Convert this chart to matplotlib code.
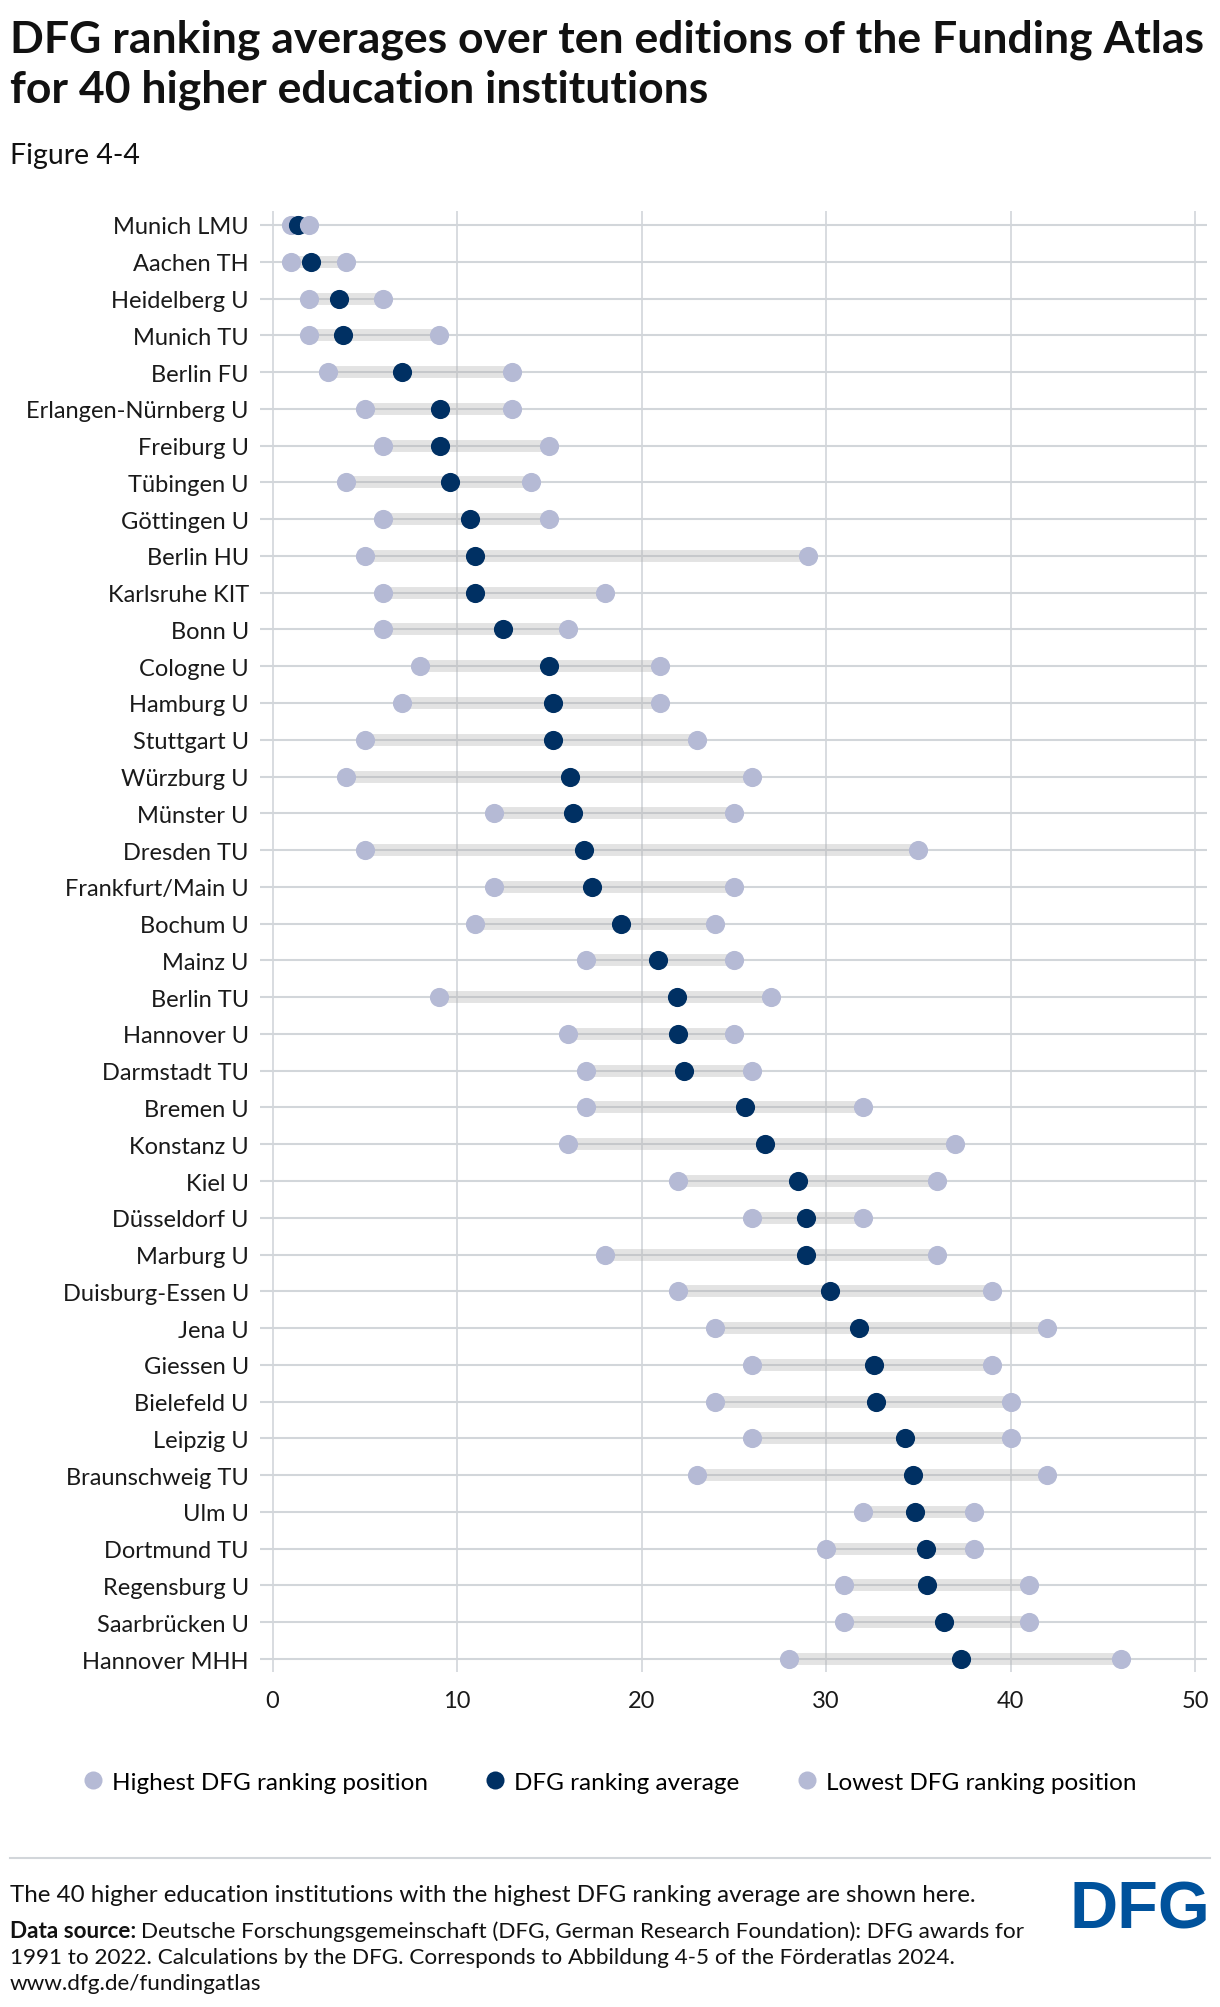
import numpy as np
import matplotlib
matplotlib.use("Agg")
import matplotlib.pyplot as plt
from matplotlib.lines import Line2D

plt.rcParams['font.family'] = ['Lato', 'DejaVu Sans']

# ======================== data ========================
institutions = ['Munich LMU', 'Aachen TH', 'Heidelberg U', 'Munich TU', 'Berlin FU',
                'Erlangen-Nürnberg U', 'Freiburg U', 'Tübingen U', 'Göttingen U', 'Berlin HU',
                'Karlsruhe KIT', 'Bonn U', 'Cologne U', 'Hamburg U', 'Stuttgart U',
                'Würzburg U', 'Münster U', 'Dresden TU', 'Frankfurt/Main U', 'Bochum U',
                'Mainz U', 'Berlin TU', 'Hannover U', 'Darmstadt TU', 'Bremen U',
                'Konstanz U', 'Kiel U', 'Düsseldorf U', 'Marburg U', 'Duisburg-Essen U',
                'Jena U', 'Giessen U', 'Bielefeld U', 'Leipzig U', 'Braunschweig TU',
                'Ulm U', 'Dortmund TU', 'Regensburg U', 'Saarbrücken U', 'Hannover MHH']
highest = [1, 1, 2, 2, 3, 5, 6, 4, 6, 5,
           6, 6, 8, 7, 5, 4, 12, 5, 12, 11,
           17, 9, 16, 17, 17, 16, 22, 26, 18, 22,
           24, 26, 24, 26, 23, 32, 30, 31, 31, 28]
average = [1.4, 2.1, 3.6, 3.8, 7.0, 9.1, 9.1, 9.6, 10.7, 11.0,
           11.0, 12.5, 15.0, 15.2, 15.2, 16.1, 16.3, 16.9, 17.3, 18.9,
           20.9, 21.9, 22.0, 22.3, 25.6, 26.7, 28.5, 28.9, 28.9, 30.2,
           31.8, 32.6, 32.7, 34.3, 34.7, 34.8, 35.4, 35.5, 36.4, 37.3]
lowest = [2, 4, 6, 9, 13, 13, 15, 14, 15, 29,
          18, 16, 21, 21, 23, 26, 25, 35, 25, 24,
          25, 27, 25, 26, 32, 37, 36, 32, 36, 39,
          42, 39, 40, 40, 42, 38, 38, 41, 41, 46]
x_ticks = [0, 10, 20, 30, 40, 50]

light = '#b5bad5'
dark = '#003063'
grid_col = '#d2d6da'

W, H = 1220, 2008
fig = plt.figure(figsize=(W / 100, H / 100), dpi=100)

def fx(px):
    return px / W

def fy(py):
    return 1 - py / H

# axes: left 260px, right 1207px, top 212px, bottom 1673px
ax = fig.add_axes([fx(260), fy(1673), fx(1207 - 260), (1673 - 212) / H])

y = np.arange(len(institutions))
for i in y:
    ax.plot([highest[i], lowest[i]], [i, i], color='#b0b0b0', alpha=0.35,
            lw=8.6, solid_capstyle='butt', zorder=2)
ax.plot(highest, y, 'o', color=light, ms=13.8, mew=0, zorder=3)
ax.plot(average, y, 'o', color=dark, ms=13.8, mew=0, zorder=4)
ax.plot(lowest, y, 'o', color=light, ms=13.8, mew=0, zorder=5)

ax.set_xlim((260 - 272.5) / 18.45, (1207 - 272.5) / 18.45)
ax.set_ylim(39 + 13 / 36.78, -14 / 36.78)
ax.set_xticks(x_ticks)
ax.set_yticks(y)
ax.set_yticklabels(institutions)
ax.tick_params(axis='both', length=0, labelsize=17, colors='#1a1a1a')
ax.tick_params(axis='y', pad=8)
ax.tick_params(axis='x', pad=13)
ax.set_axisbelow(True)
ax.xaxis.grid(True, color=grid_col, lw=1.2)
ax.yaxis.grid(True, color=grid_col, lw=1.5)
for s in ax.spines.values():
    s.set_visible(False)

# ======================== titles ========================
fig.text(fx(10), fy(52), 'DFG ranking averages over ten editions of the Funding Atlas',
         fontsize=32, fontweight='bold', va='baseline', ha='left', color='#111111')
fig.text(fx(10), fy(103), 'for 40 higher education institutions',
         fontsize=32, fontweight='bold', va='baseline', ha='left', color='#111111')
fig.text(fx(10), fy(164), 'Figure 4-4', fontsize=20.5, va='baseline', ha='left', color='#111111')

# ======================== legend ========================
handles = [Line2D([], [], ls='', marker='o', ms=13, mew=0, color=light),
           Line2D([], [], ls='', marker='o', ms=13, mew=0, color=dark),
           Line2D([], [], ls='', marker='o', ms=13, mew=0, color=light)]
fig.legend(handles, ['Highest DFG ranking position', 'DFG ranking average',
                     'Lowest DFG ranking position'],
           loc='center', bbox_to_anchor=(fx(610), fy(1783)), ncol=3, frameon=False,
           fontsize=17.5, handlelength=0.75, handletextpad=0.4, columnspacing=2.4,
           borderpad=0)

# ======================== footer ========================
fig.add_artist(Line2D([fx(10), fx(1210)], [fy(1859), fy(1859)], color=grid_col, lw=1.5))
fig.text(fx(10), fy(1902),
         'The 40 higher education institutions with the highest DFG ranking average are shown here.',
         fontsize=17.4, va='baseline', ha='left', color='#111111')
bold = fig.text(fx(10), fy(1938), 'Data source:', fontsize=16.2, fontweight='bold',
                va='baseline', ha='left', color='#111111')
fig.canvas.draw()
bb = bold.get_window_extent(renderer=fig.canvas.get_renderer())
fig.text(fx(bb.x1 + 5), fy(1938),
         'Deutsche Forschungsgemeinschaft (DFG, German Research Foundation): DFG awards for',
         fontsize=16.2, va='baseline', ha='left', color='#111111')
fig.text(fx(10), fy(1964),
         '1991 to 2022. Calculations by the DFG. Corresponds to Abbildung 4-5 of the Förderatlas 2024.',
         fontsize=16.2, va='baseline', ha='left', color='#111111')
fig.text(fx(10), fy(1990), 'www.dfg.de/fundingatlas',
         fontsize=16.2, va='baseline', ha='left', color='#111111')
fig.text(fx(1210), fy(1929), 'DFG', fontsize=48, fontweight='bold',
         family='Liberation Sans', va='baseline', ha='right', color='#00529c')

fig.savefig('out.png', dpi=100)
